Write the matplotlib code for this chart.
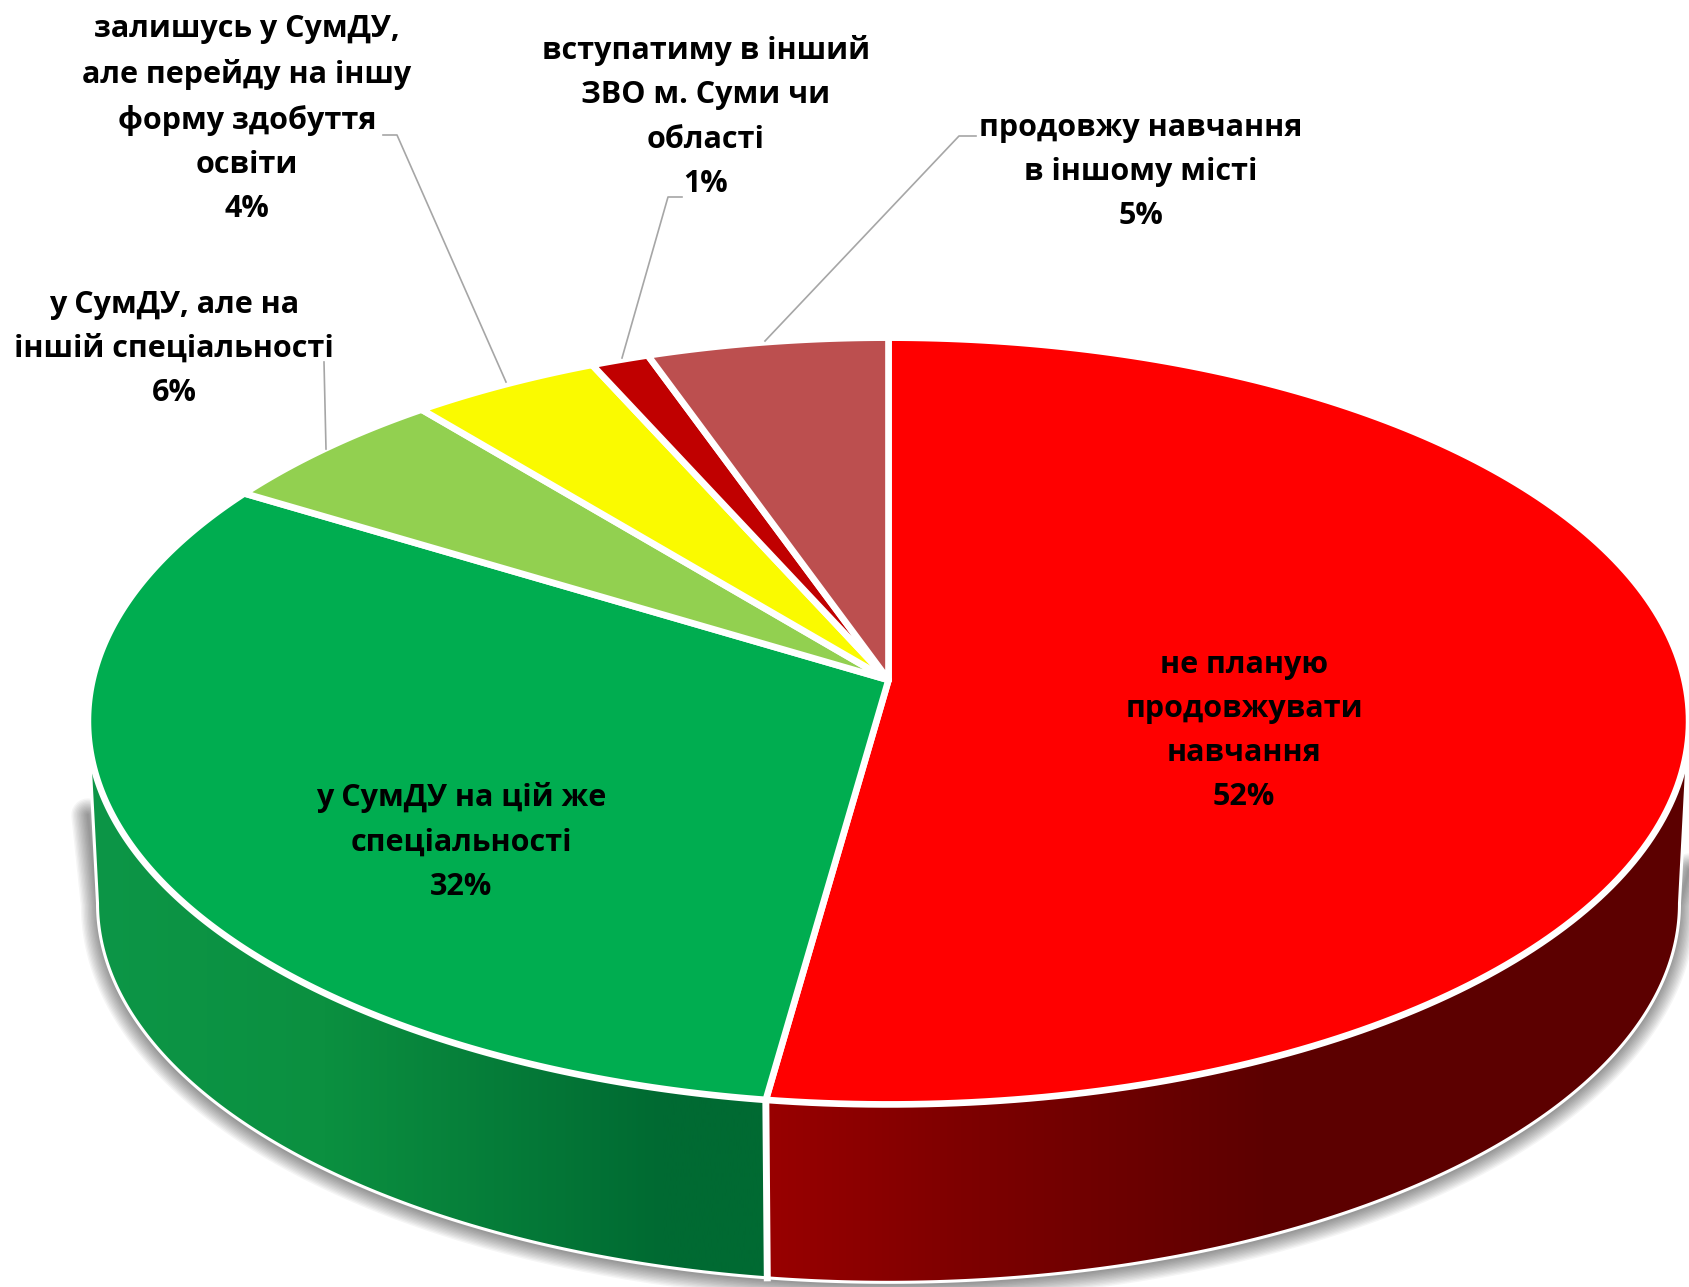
import numpy as np
import matplotlib
matplotlib.use('Agg')
import matplotlib.pyplot as plt
from matplotlib.colors import LinearSegmentedColormap
from matplotlib.patches import Polygon

# slices clockwise from the top, shares
categories = [
    'не планую\nпродовжувати\nнавчання',
    'у СумДУ на цій же\nспеціальності',
    'у СумДУ, але на\nіншій спеціальності',
    'залишусь у СумДУ,\nале перейду на іншу\nформу здобуття\nосвіти',
    'вступатиму в інший\nЗВО м. Суми чи\nобласті',
    'продовжу навчання\nв іншому місті',
]
values = [52.2, 31.5, 5.35, 4.25, 1.3, 5.4]
percent_labels = ['52%', '32%', '6%', '4%', '1%', '5%']
colors = ['#FF0000', '#00AD50', '#92D050', '#FAFA00', '#C00000', '#BC4F4F']

# where the labels sit and the bends of their leader lines
label_pos = [(1244, 731), (461, 842), (174, 349), (247, 119), (706, 117), (1141, 172)]
leaders = [
    None,
    None,
    [(324, 362), (326, 449)],
    [(383, 135), (397, 135), (506, 382)],
    [(682, 197), (668, 197), (622, 358)],
    [(976, 136), (959, 136), (765, 341)],
]

# perspective of the disc
CX, CY = 888.5, 680
RX, RY = 796, 379
K = 0.107
DEPTH = 183
BOTTOM_SCALE = 0.988


def project(theta, bottom=False):
    # theta is clockwise from the top, returns picture coords
    x = np.sin(theta)
    y = np.cos(theta)
    w = 1 + K * y
    if bottom:
        return CX + BOTTOM_SCALE * RX * x / w, CY + DEPTH - BOTTOM_SCALE * RY * y / w
    return CX + RX * x / w, CY - RY * y / w


def arc(start, end, bottom=False):
    th = np.linspace(start, end, 200)
    return project(th, bottom)


fig = plt.figure(figsize=(16.9, 12.87), dpi=100)
ax = fig.add_axes([0, 0, 1, 1])

# slice edges
cum = np.cumsum([0] + values) / sum(values) * 2 * np.pi
left_edge = np.deg2rad(263.9)
right_edge = np.deg2rad(96.1)

# soft shadow round the lower rim, starting part way down each side
sx, sy = arc(right_edge, left_edge, bottom=True)
sx = np.r_[project(right_edge)[0], sx, project(left_edge)[0]]
sy = np.r_[870, sy + 2, 815]
for lw in np.arange(24, 1, -2):
    ax.plot(sx, sy, color='black', alpha=0.04, lw=lw,
            solid_capstyle='round', solid_joinstyle='round')

# side wall, red then green, shaded left to right
red_ramp = [(0, '#990000'), (0.2, '#7F0000'), (0.55, '#5C0000'), (1, '#5C0000')]
green_ramp = [(0, '#0D9647'), (0.35, '#0B9040'), (0.85, '#006A32'), (1, '#006A32')]
side_slices = [
    (right_edge, cum[1], red_ramp, (765, 1690)),
    (cum[1], left_edge, green_ramp, (88, 765)),
]
for start, end, ramp, x_range in side_slices:
    tx, ty = arc(start, end)
    bx, by = arc(start, end, bottom=True)
    px = np.concatenate([tx, bx[::-1]])
    py = np.concatenate([ty, by[::-1]])
    cmap = LinearSegmentedColormap.from_list('side', ramp)
    grad = np.linspace(0, 1, 256).reshape(1, -1)
    im = ax.imshow(grad, cmap=cmap, aspect='auto', interpolation='bilinear',
                   extent=[x_range[0], x_range[1], 1287, 300], zorder=2)
    outline = Polygon(np.column_stack([px, py]), closed=True, fc='none', ec='white',
                      lw=2.2, zorder=3, joinstyle='round')
    ax.add_patch(outline)
    im.set_clip_path(outline)

# white seam between the two walls
seam_t = project(cum[1])
seam_b = project(cum[1], True)
ax.plot([seam_t[0], seam_b[0]], [seam_t[1], seam_b[1]], color='white', lw=5, zorder=4)

# top face
for i, color in enumerate(colors):
    wx, wy = arc(cum[i], cum[i + 1])
    pts = np.column_stack([np.r_[CX, wx], np.r_[CY, wy]])
    ax.add_patch(Polygon(pts, closed=True, fc=color, ec='white', lw=4.8,
                         joinstyle='round', zorder=5))

# leader lines
for line in leaders:
    if line is None:
        continue
    lx, ly = zip(*line)
    ax.plot(lx, ly, color='#A6A6A6', lw=1.2, zorder=6)

# labels
for name, pct, pos in zip(categories, percent_labels, label_pos):
    ax.text(pos[0], pos[1], name + '\n' + pct, ha='center', va='center',
            multialignment='center', family='Open Sans', weight='bold',
            fontsize=22, linespacing=1.62, color='black', zorder=7)

ax.set_xlim(0, 1690)
ax.set_ylim(1287, 0)
ax.axis('off')

fig.savefig('out.png', dpi=100)
